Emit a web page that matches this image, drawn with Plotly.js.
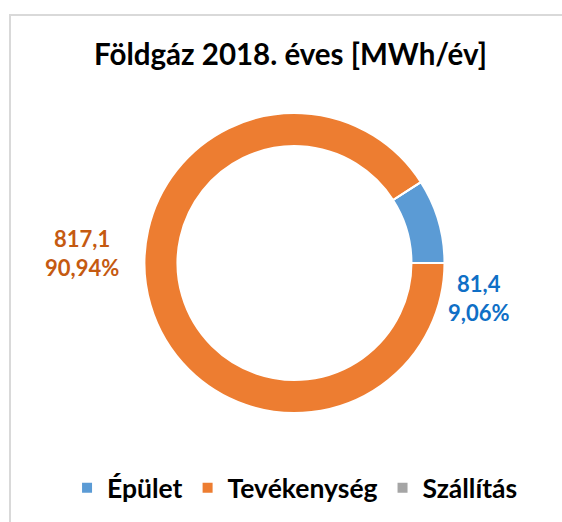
<!DOCTYPE html>
<html>
<head>
<meta charset="utf-8">
<script src="https://cdn.plot.ly/plotly-3.0.1.min.js"></script>
<style>
  html, body { margin: 0; padding: 0; background: #fff; overflow: hidden; }
  #chart { width: 562px; height: 522px; position: absolute; left: 0; top: 0; }
  #frame { position: absolute; left: 9px; top: 14px; width: 600px; height: 600px;
           border: 2px solid #D9D9D9; pointer-events: none; box-sizing: border-box; }
</style>
</head>
<body>
<div id="chart"></div>
<div id="frame"></div>
<script>
const categories = ["Épület", "Tevékenység", "Szállítás"];
const values = [81.4, 817.1, 0];
const percents = ["9,06%", "90,94%", "0,00%"];
const colors = ["#5B9BD5", "#ED7D31", "#A5A5A5"];
const labelColors = ["#0F6FC6", "#C55A11", "#7B7B7B"];

const FONT = "Lato, 'Open Sans', sans-serif";

function fmt(v) { return v.toFixed(1).replace(".", ","); }

const trace = {
  type: "pie",
  labels: categories,
  values: values,
  sort: false,
  direction: "clockwise",
  rotation: 57.4,
  hole: 0.78,
  textinfo: "none",
  hoverinfo: "label+value+percent",
  marker: { colors: colors, line: { color: "#FFFFFF", width: 2 } },
  domain: { x: [0.2544, 0.7936], y: [0.2088, 0.7835] }
};

// label anchor positions (paper coords) for the non-zero slices
const labelPos = [[0.851, 0.429], [0.1459, 0.515]];
const annotations = [];
for (let i = 0; i < 2; i++) {
  annotations.push({
    xref: "paper", yref: "paper",
    x: labelPos[i][0], y: labelPos[i][1],
    xanchor: "center", yanchor: "middle",
    showarrow: false, align: "center",
    text: fmt(values[i]) + "<br>" + percents[i],
    font: { family: FONT, size: 22, color: labelColors[i], weight: "bold" }
  });
}

const layout = {
  width: 562, height: 522,
  margin: { l: 0, r: 0, t: 0, b: 0 },
  paper_bgcolor: "#FFFFFF",
  title: {
    text: "<b>Földgáz 2018. éves [MWh/év]</b>",
    font: { family: FONT, size: 29.5, color: "#000000" },
    x: 0.517, xanchor: "center", y: 0.895, yanchor: "middle"
  },
  showlegend: true,
  legend: {
    orientation: "h", x: 0.525, xanchor: "center", y: 0.065, yanchor: "middle",
    font: { family: FONT, size: 26.5, color: "#000000", weight: "bold" },
    traceorder: "normal"
  },
  annotations: annotations
};

Plotly.newPlot("chart", [trace], layout, { displayModeBar: false, staticPlot: true });
</script>
</body>
</html>
